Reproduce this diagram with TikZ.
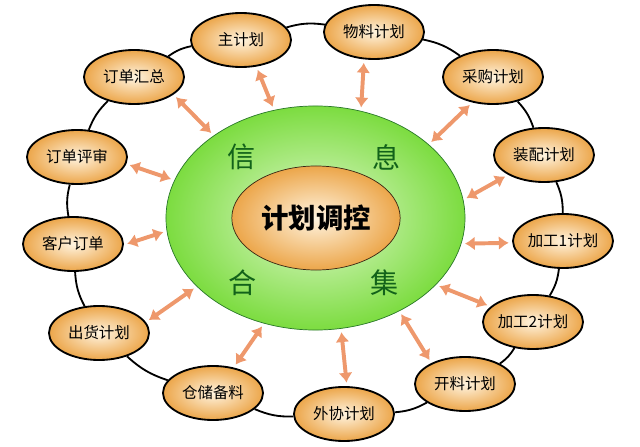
\documentclass[tikz,border=0pt]{standalone}
\usepackage{fontspec}
\setmainfont{Noto Sans CJK SC}
\usetikzlibrary{shapes.geometric,arrows.meta}
\definecolor{planin}{RGB}{255,244,224}
\definecolor{planout}{RGB}{236,166,74}
\definecolor{infoin}{RGB}{226,249,208}
\definecolor{infoout}{RGB}{124,220,64}
\definecolor{infoline}{RGB}{40,120,40}
\definecolor{infotext}{RGB}{18,98,26}
\definecolor{arrowc}{RGB}{238,152,108}

\begin{document}
\begin{tikzpicture}[x=0.025cm,y=-0.025cm,
  plan/.style={ellipse,draw=black,line width=1.3pt,inner color=planin,outer color=planout,
    minimum width=2.5cm,minimum height=1.35cm,inner sep=0pt,font=\fontsize{11}{13}\selectfont},
  ring/.style={draw=black,line width=1.3pt},
  link/.style={draw=arrowc,line width=2.8pt,{Latex[length=7pt,width=10pt]}-{Latex[length=7pt,width=10pt]},
    shorten <=2.5pt,shorten >=2.5pt},
  word/.style={text=infotext,font=\fontsize{20}{24}\selectfont}]
 \useasboundingbox (0,0) rectangle (640,447);

 % centre
 \node[ellipse,draw=infoline,line width=0.5pt,inner color=infoin,outer color=infoout,
   minimum width=7.475cm,minimum height=5.6cm] (XX) at (315.5,218) {};
 \node[ellipse,draw=black!70!brown,line width=0.5pt,inner color=planin,outer color=planout,
   minimum width=4.05cm,minimum height=2.6cm,font=\fontsize{19.5}{23}\selectfont\bfseries] (JH) at (316,218) {计划调控};
 \node[word] (Xin) at (242,157) {信};
 \node[word] (Xi) at (387,157) {息};
 \node[word] (He) at (243,283) {合};
 \node[word] (Ji) at (385,283) {集};

 % plans
 \node[plan] (ZJ) at (241,40) {主计划};
 \node[plan] (WL) at (374,32) {物料计划};
 \node[plan] (CG) at (493,77) {采购计划};
 \node[plan] (ZP) at (544,155) {装配计划};
 \node[plan] (JG1) at (563,241) {加工1计划};
 \node[plan] (JG2) at (533,322) {加工2计划};
 \node[plan] (KL) at (465,384) {开料计划};
 \node[plan] (WX) at (344,414) {外协计划};
 \node[plan] (CC) at (213,393) {仓储备料};
 \node[plan] (CH) at (99,333) {出货计划};
 \node[plan] (KH) at (73,244) {客户订单};
 \node[plan] (PS) at (77,157) {订单评审};
 \node[plan] (HZ) at (134,77) {订单汇总};

 % ring
 \draw[ring] (ZJ) to[bend left=12] (WL);
 \draw[ring] (WL) to[bend left=12] (CG);
 \draw[ring] (CG) to[bend left=12] (ZP);
 \draw[ring] (ZP) to[bend left=12] (JG1);
 \draw[ring] (JG1) to[bend left=12] (JG2);
 \draw[ring] (JG2) to[bend left=12] (KL);
 \draw[ring] (KL) to[bend left=12] (WX);
 \draw[ring] (WX) to[bend left=12] (CC);
 \draw[ring] (CC) to[bend left=12] (CH);
 \draw[ring] (CH) to[bend left=12] (KH);
 \draw[ring] (KH) to[bend left=12] (PS);
 \draw[ring] (PS) to[bend left=12] (HZ);
 \draw[ring] (HZ) to[bend left=12] (ZJ);

 % links
 \draw[link] (ZJ.-60) -- (XX.111);
 \draw[link] (WL.250) -- (XX.67);
 \draw[link] (CG.231) -- (XX.33);
 \draw[link] (ZP.209) -- (XX.7);
 \draw[link] (JG1.182) -- (XX.350);
 \draw[link] (JG2.160) -- (XX.331);
 \draw[link] (KL.148) -- (XX.312);
 \draw[link] (WX.84) -- (XX.283);
 \draw[link] (CC.51) -- (XX.244);
 \draw[link] (CH.13) -- (XX.210);
 \draw[link] (KH.-1) -- (XX.185);
 \draw[link] (PS.-8) -- (XX.165);
 \draw[link] (HZ.-24) -- (XX.141);
\end{tikzpicture}
\end{document}
